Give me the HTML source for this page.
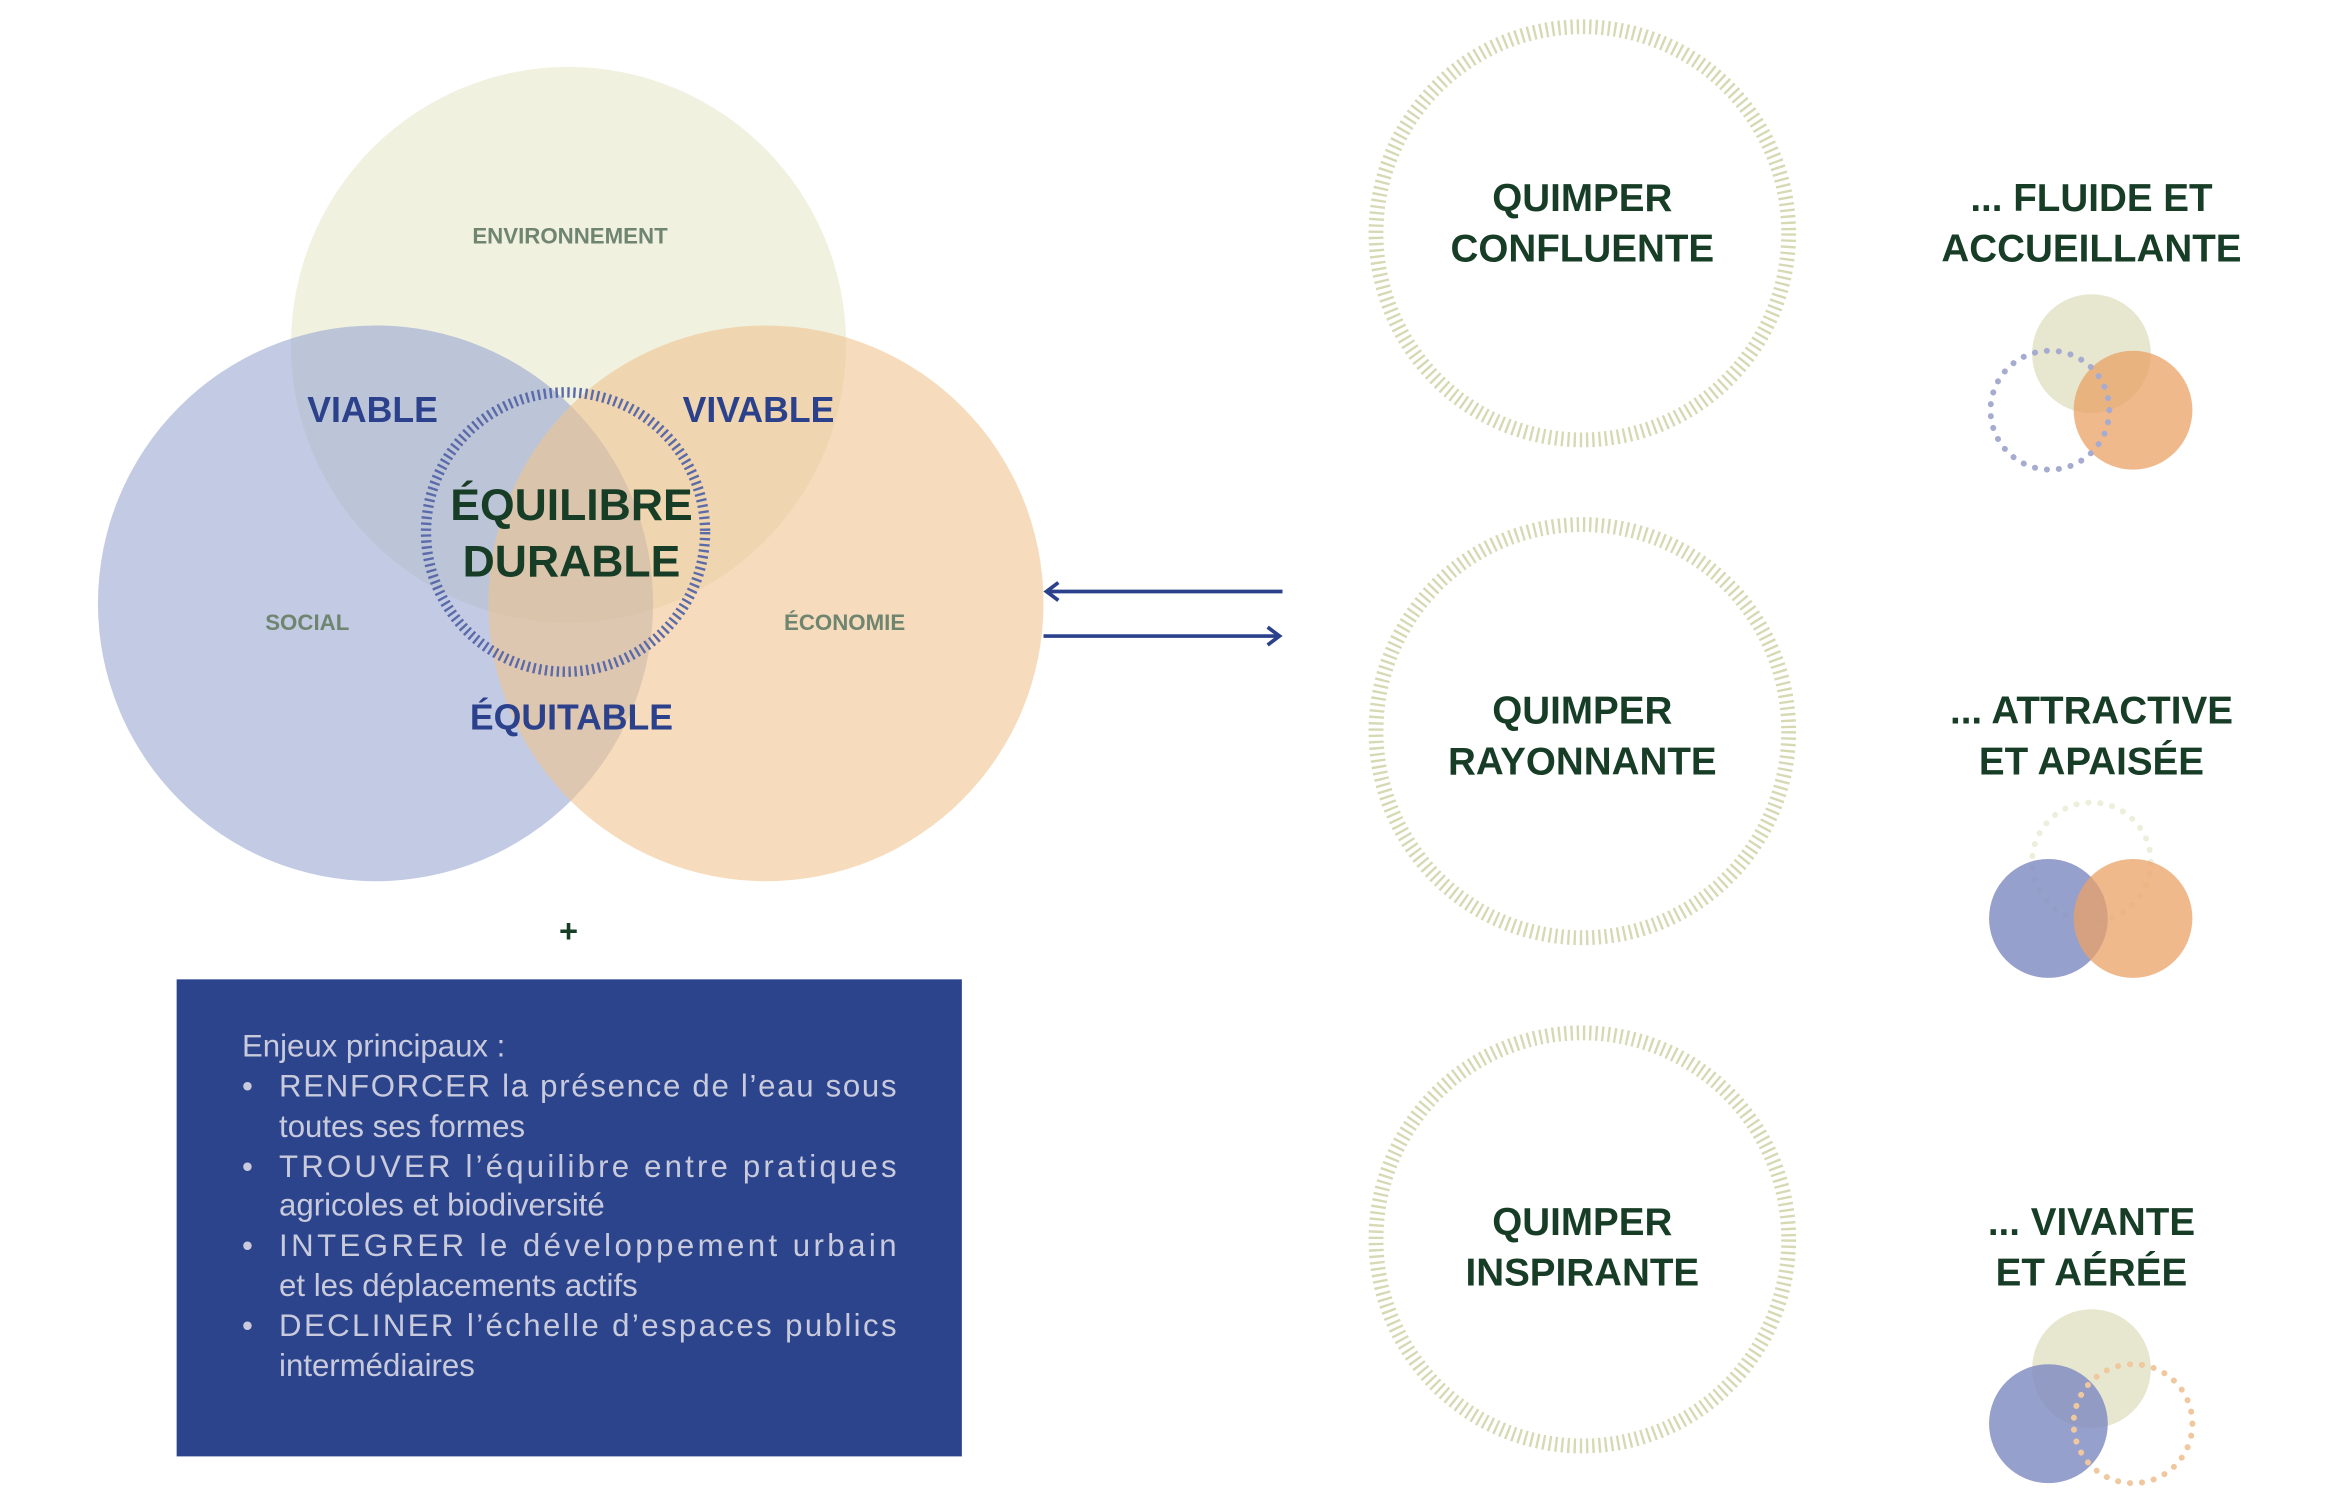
<!DOCTYPE html>
<html><head><meta charset="utf-8"><style>
html,body{margin:0;padding:0;background:#fff;}
svg{display:block}
text{font-family:"Liberation Sans",sans-serif;font-weight:bold;text-anchor:middle}
</style></head><body>
<svg width="2326" height="1498" viewBox="0 0 1567 1008" preserveAspectRatio="none" xmlns="http://www.w3.org/2000/svg">
<rect width="1567" height="1008" fill="#fff"/>
<circle cx="383" cy="232" r="187" fill="#e8e8cc" opacity="0.6"/>
<circle cx="253" cy="406" r="187" fill="#9aa6d2" opacity="0.6"/>
<circle cx="516" cy="406" r="187" fill="#f0c48f" opacity="0.6"/>
<circle cx="381" cy="358" r="94" fill="none" stroke="#5b6aa8" stroke-width="7" stroke-dasharray="1.6 2.4"/>
<text x="384" y="164" font-size="15" fill="#6f8570">ENVIRONNEMENT</text>
<text x="251" y="284" font-size="24" fill="#2c418c">VIABLE</text>
<text x="511" y="284" font-size="24" fill="#2c418c">VIVABLE</text>
<text x="385" y="350" font-size="30" fill="#173d27">ÉQUILIBRE</text>
<text x="385" y="388" font-size="30" fill="#173d27">DURABLE</text>
<text x="207" y="424" font-size="15" fill="#6f8570">SOCIAL</text>
<text x="569" y="424" font-size="15" fill="#6f8570">ÉCONOMIE</text>
<text x="385" y="491" font-size="24" fill="#2c418c">ÉQUITABLE</text>
<g stroke="#2c418c" stroke-width="2.5" fill="none">
<line x1="705" y1="398" x2="864" y2="398"/><polyline points="713,392 705,398 713,404"/>
<line x1="703" y1="428" x2="862" y2="428"/><polyline points="854,422 862,428 854,434"/>
</g>
<text x="383" y="634" font-size="22" fill="#173d27">+</text>
<rect x="119" y="659" width="529" height="321" fill="#2c448c"/>
<g font-family="Liberation Sans,sans-serif" font-size="21" fill="#c9cbdc" style="font-weight:normal">
<text x="163" y="711" style="text-anchor:start;font-weight:normal">Enjeux principaux :</text>
<text x="163" y="738" style="text-anchor:start;font-weight:normal">•</text>
<text x="163" y="792" style="text-anchor:start;font-weight:normal">•</text>
<text x="163" y="845" style="text-anchor:start;font-weight:normal">•</text>
<text x="163" y="899" style="text-anchor:start;font-weight:normal">•</text>
<text x="188" y="738" textLength="416" style="text-anchor:start;font-weight:normal">RENFORCER la présence de l’eau sous</text>
<text x="188" y="765" style="text-anchor:start;font-weight:normal">toutes ses formes</text>
<text x="188" y="792" textLength="416" style="text-anchor:start;font-weight:normal">TROUVER l’équilibre entre pratiques</text>
<text x="188" y="818" style="text-anchor:start;font-weight:normal">agricoles et biodiversité</text>
<text x="188" y="845" textLength="416" style="text-anchor:start;font-weight:normal">INTEGRER le développement urbain</text>
<text x="188" y="872" style="text-anchor:start;font-weight:normal">et les déplacements actifs</text>
<text x="188" y="899" textLength="416" style="text-anchor:start;font-weight:normal">DECLINER l’échelle d’espaces publics</text>
<text x="188" y="926" style="text-anchor:start;font-weight:normal">intermédiaires</text>
</g>
<g fill="none" stroke="#d6d9b4" stroke-width="10" stroke-dasharray="1.6 2.6">
<circle cx="1066" cy="157" r="139"/>
<circle cx="1066" cy="492" r="139"/>
<circle cx="1066" cy="834" r="139"/>
</g>
<g font-size="26" fill="#173d27">
<text x="1066" y="142">QUIMPER</text><text x="1066" y="176">CONFLUENTE</text>
<text x="1066" y="487">QUIMPER</text><text x="1066" y="521">RAYONNANTE</text>
<text x="1066" y="831">QUIMPER</text><text x="1066" y="865">INSPIRANTE</text>
<text x="1409" y="142">... FLUIDE ET</text><text x="1409" y="176">ACCUEILLANTE</text>
<text x="1409" y="487">... ATTRACTIVE</text><text x="1409" y="521">ET APAISÉE</text>
<text x="1409" y="831">... VIVANTE</text><text x="1409" y="865">ET AÉRÉE</text>
</g>
<circle cx="1409" cy="238" r="40" fill="#e3e3c8" opacity="0.85"/>
<circle cx="1437" cy="276" r="40" fill="#e9a266" opacity="0.75"/>
<circle cx="1381" cy="276" r="40" fill="none" stroke="#a6abd0" stroke-width="4" stroke-linecap="round" stroke-dasharray="0.1 8"/>
<circle cx="1409" cy="580" r="40" fill="none" stroke="#eeeedd" stroke-width="4" stroke-linecap="round" stroke-dasharray="0.1 8"/>
<circle cx="1380" cy="618" r="40" fill="#7c88c0" opacity="0.8"/>
<circle cx="1437" cy="618" r="40" fill="#e9a266" opacity="0.75"/>
<circle cx="1409" cy="921" r="40" fill="#e3e3c8" opacity="0.85"/>
<circle cx="1380" cy="958" r="40" fill="#7c88c0" opacity="0.8"/>
<circle cx="1437" cy="958" r="40" fill="none" stroke="#f0c8a0" stroke-width="4" stroke-linecap="round" stroke-dasharray="0.1 8"/>
</svg>
</body></html>
